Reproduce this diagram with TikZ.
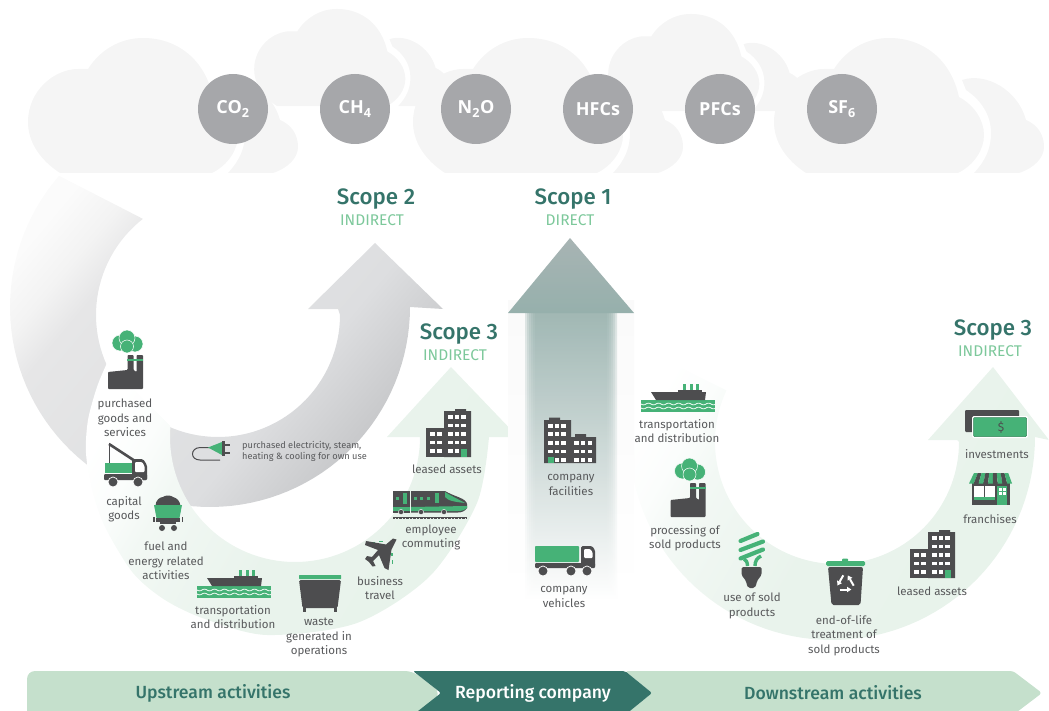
\documentclass[tikz,border=0pt]{standalone}
\usepackage{fontspec}
\setmainfont{Fira Sans}
\newfontfamily\gasfont{Open Sans}
\newfontfamily\headfont{Fira Sans Medium}
\definecolor{cloudGrey}{HTML}{F5F5F5}
\definecolor{gasGrey}{HTML}{A6A7AA}
\definecolor{iconGrey}{HTML}{4D4D4F}
\definecolor{iconGreen}{HTML}{46B277}
\definecolor{textGrey}{HTML}{58595B}
\definecolor{scopeDark}{HTML}{35746A}
\definecolor{scopeLight}{HTML}{7DC89B}
\definecolor{barLight}{HTML}{C5E0CC}
\definecolor{arrowGreen}{HTML}{96B0AC}
\definecolor{ringA}{HTML}{FBFBFB}
\definecolor{ringB}{HTML}{F3F3F3}
\definecolor{ringC}{HTML}{E6E6E7}
\definecolor{ringD}{HTML}{E1E2E3}
\definecolor{ringE}{HTML}{DDDEE0}
\definecolor{ringG}{HTML}{C7C8CA}
\definecolor{bandA}{HTML}{FBFDFC}
\definecolor{bandB}{HTML}{F2F8F4}
\definecolor{bandC}{HTML}{E9F3EC}
\definecolor{bandD}{HTML}{E7F2EA}
\pgfdeclarehorizontalshading{ringshade}{100bp}{color(0bp)=(ringA); color(22bp)=(ringA); color(28bp)=(ringB); color(33bp)=(ringC); color(48bp)=(ringD); color(60bp)=(ringE); color(72bp)=(ringG); color(100bp)=(ringG)}
\pgfdeclarehorizontalshading{bandshade}{100bp}{color(0bp)=(white); color(22bp)=(white); color(28bp)=(bandA); color(34bp)=(bandB); color(50bp)=(bandC); color(100bp)=(bandD)}
\tikzset{
  lbl/.style = {inner sep = 0, align = center, text = textGrey, font = \fontsize{11.5}{14.4}\selectfont},
  scopetitle/.style = {inner sep = 0, text = scopeDark, font = \headfont\fontsize{22.3}{24}\selectfont},
  scopekind/.style = {inner sep = 0, text = scopeLight, font = \fontsize{15.5}{16}\selectfont},
  gas/.style = {circle, fill = gasGrey, minimum size = 70, inner sep = 0, text = white, font = \gasfont\bfseries\fontsize{18}{20}\selectfont},
  barlbl/.style = {inner sep = 0, font = \headfont\fontsize{17.6}{20}\selectfont},
  seam/.style = {draw = white, line width = 0.5},
  factory/.pic = {
    \fill [iconGrey, rounded corners = 0.8] (0,0)--(0,-17)--(19.5,-19)--(19.5,-34)--(25.5,-34)--(25.5,-19)--(28.5,-17)--(28.5,-34)--(35,-34)--(35,0)--cycle;
    \fill [iconGreen] (19,-30.5) rectangle (35,-28.5);
    \filldraw [seam, fill = iconGreen] (12,-46) circle (8);
    \filldraw [seam, fill = iconGreen] (27,-45) circle (8);
    \filldraw [seam, fill = iconGreen] (19,-51) circle (8);
    \filldraw [seam, fill = iconGreen] (19,-42.5) circle (6.5);
  },
  ship/.pic = {
    \fill [iconGreen] (0,0) rectangle (74,12);
    \draw [white, line width = 0.7] plot [domain = 0:74, samples = 60] (\x,{4+0.9*sin(\x*36)});
    \draw [white, line width = 0.7] plot [domain = 0:74, samples = 60] (\x,{8+0.9*sin(\x*36)});
    \fill [iconGrey] (10,-8)--(65,-8)--(64,0)--(15,0)--cycle;
    \fill [iconGrey] (37,-10) rectangle (61,-7.5);
    \fill [iconGreen] (42,-16) rectangle (45,-10);
    \fill [iconGreen] (48.5,-16) rectangle (52,-10);
    \fill [iconGreen] (55,-16) rectangle (58,-10);
  },
  block/.pic = {
    \fill [iconGrey] (0,0) rectangle (18,-29);
    \fill [iconGrey] (18,0)--(18,-46)--(29,-46)--(29,-48)--(40,-48)--(40,-46)--(45,-46)--(45,0)--cycle;
    \foreach \y in {-8,-16.5,-25} {
      \fill [white] (4,\y) rectangle +(4.5,3.8);
      \fill [white] (11,\y) rectangle +(4.5,3.8);
    }
    \foreach \y in {-8,-16.5,-25,-33.5,-42} {
      \fill [white] (22,\y) rectangle +(4.5,3.8);
      \fill [white] (28.5,\y) rectangle +(4.5,3.8);
      \fill [white] (35,\y) rectangle +(4.5,3.8);
    }
    \fill [iconGrey] (34,-8) rectangle (45,0);
    \fill [white] (28.5,-8) rectangle +(4.5,3.8);
    \fill [iconGreen] (35,-8) rectangle (41,0);
  },
  cloudshape/.pic = {
    \fill [cloudGrey] (60,173) .. controls (40,160) and (28,142) .. (28,122) .. controls (28,90) and (55,69) .. (78,69) -- (88,69) .. controls (100,50) and (120,38) .. (143,38) .. controls (178,38) and (205,60) .. (213,97) .. controls (228,105) and (238,120) .. (238,135) .. controls (238,150) and (228,165) .. (212,173) -- cycle;
    \fill [cloudGrey] (228,173) .. controls (240,160) and (245,148) .. (245,133) .. controls (245,115) and (235,100) .. (220,90) -- (216,80) .. controls (240,72) and (272,90) .. (280,120) .. controls (292,125) and (298,135) .. (298,147) .. controls (298,158) and (288,168) .. (273,173) -- cycle;
  }
}
\begin{document}
\begin{tikzpicture}[x=1pt,y=-1pt]
    \useasboundingbox (0,0) rectangle (1049,711);
    % clouds
    \begin{scope}[shift={(234,-18.4)},scale=0.72]
        \pic [transform shape] {cloudshape};
    \end{scope}
    \begin{scope}[shift={(588,-13.4)},scale=0.72]
        \pic [transform shape] {cloudshape};
    \end{scope}
    \pic at (0,0) {cloudshape};
    \pic at (385,0) {cloudshape};
    \pic at (746,0) {cloudshape};
    \node [gas] (co2) at (233,109) {CO\textsubscript{2}};
    \node [gas] (ch4) at (355,109) {CH\textsubscript{4}};
    \node [gas] (n2o) at (476,109) {N\textsubscript{2}O};
    \node [gas] (hfcs) at (598,109) {HFCs};
    \node [gas] (pfcs) at (720,109) {PFCs};
    \node [gas] (sf6) at (842,109) {SF\textsubscript{6}};
    % scope 2 ring
    \shade [shading = ringshade, shading angle = -40] plot [domain = 221:0, samples = 80] ({210+200*cos(\x)},{307+200*sin(\x)}) -- (443,309) -- (375,243) -- (308,309) -- (338,309) -- plot [domain = 0:232, samples = 80] ({218+122*cos(\x)},{315+122*sin(\x)}) -- cycle;
    % scope 3 upstream band
    \shade [shading = bandshade, shading angle = -30] plot [smooth] coordinates {(107,363) (97,387) (88,420) (86,453) (92,490) (105,527) (133,573) (165,600) (205,619) (267,635) (357,623) (430,576) (477,503) (489,437)} -- (518,437) -- (451,367) -- (387,437) -- (420,437) -- plot [domain = 0:185, samples = 80] ({295+125*cos(\x)},{437+125*sin(\x)}) -- cycle;
    % scope 3 downstream band
    \shade [shading = bandshade, shading angle = -30] plot [domain = 205:0, samples = 80] ({832+203*cos(\x)},{437+203*sin(\x)}) -- (1049,440) -- (993,367) -- (928,440) -- (957,440) -- plot [domain = 0:205, samples = 80] ({837+122*cos(\x)},{442+122*sin(\x)}) -- cycle;
    % scope 1 arrow
    \fill [top color = black!2, bottom color = white] (508,300) rectangle (634,602);
    \foreach \w in {0,2,4,6,8,10} {
        \shade [top color = arrowGreen, bottom color = white, fill opacity = 0.3] ({535-\w},312) rectangle ({607+\w},{590+\w});
    }
    \shade [top color = gasGrey!50!arrowGreen!90!white, bottom color = arrowGreen] (570,238) -- (634,313) -- (508,313) -- cycle;
    % bottom bar
    \fill [barLight, rounded corners = 8] (27,671) -- (413,671) -- (441,693) -- (413,725) -- (27,725) -- cycle;
    \fill [barLight, rounded corners = 3] (625,671) -- (1013,671) -- (1042,693) -- (1013,715) -- (625,715) -- (652,693) -- cycle;
    \fill [scopeDark, rounded corners = 2] (413,671) -- (625,671) -- (652,693) -- (625,715) -- (413,715) -- (441,693) -- cycle;
    \node [barlbl, text = scopeDark] (upstream) at (213,693) {Upstream activities};
    \node [barlbl, text = white] (reporting) at (533,693) {Reporting company};
    \node [barlbl, text = scopeDark] (downstream) at (833,693) {Downstream activities};
    % scope titles
    \node [scopetitle] (s2) at (376,199) {Scope 2};
    \node [scopekind] (s2k) at (372,220) {INDIRECT};
    \node [scopetitle] (s1) at (573,199) {Scope 1};
    \node [scopekind] (s1k) at (570,220) {DIRECT};
    \node [scopetitle] (s3a) at (459,334) {Scope 3};
    \node [scopekind] (s3ak) at (455,355) {INDIRECT};
    \node [scopetitle] (s3b) at (993,330) {Scope 3};
    \node [scopekind] (s3bk) at (990,351) {INDIRECT};
    % icons
    \pic at (108,389) {factory};
    \pic at (670.5,517) {factory};
    \pic at (197,586) {ship};
    \pic at (641,400) {ship};
    \pic at (426,457) {block};
    \pic at (910,578) {block};
    % crane truck
    \draw [iconGrey, line width = 1] (109.5,443) -- (109.5,463);
    \draw [iconGrey, line width = 2.6] (109,444) -- (135,461);
    \fill [iconGrey, rounded corners = 1.5] (132,459) -- (143,459) -- (147,465) -- (147,480) -- (132,480) -- cycle;
    \fill [white, rounded corners = 1] (135,462) -- (142,462) -- (144.5,466) -- (144.5,472) -- (135,472) -- cycle;
    \fill [iconGreen] (105,463) rectangle (131.5,473);
    \fill [iconGrey, rounded corners = 1] (104,474) rectangle (147,480);
    \filldraw [fill = iconGrey, draw = white, line width = 0.7] (113,482) circle (5);
    \filldraw [fill = iconGrey, draw = white, line width = 0.7] (138,482) circle (5);
    % coal cart
    \fill [iconGrey] (155.5,506) .. controls (155.5,500) and (160,497) .. (163,497) .. controls (165,495) and (171,495) .. (173,497) .. controls (177,498) and (180,501) .. (180.5,506) -- cycle;
    \fill [iconGreen] (154,505) -- (182,505) -- (179.5,518) -- (156.5,518) -- cycle;
    \fill [iconGrey] (156,518) rectangle (180,521.5);
    \fill [iconGrey] (153,517) rectangle (154.5,522);
    \fill [iconGrey] (181.5,517) rectangle (183,522);
    \fill [iconGrey] (162,528) circle (3);
    \fill [iconGrey] (174,528) circle (3);
    \fill [iconGrey] (160,521) rectangle (176,524);
    % plug
    \draw [iconGrey, line width = 1] (220,460) -- (200,460) .. controls (190,460) and (190,448) .. (200,447.5) -- (210,447.5);
    \fill [iconGreen] (208,447.5) -- (222,442) -- (222,455) -- cycle;
    \fill [iconGrey] (222,441) rectangle (224.5,456);
    \fill [iconGrey] (224,444) rectangle (230,446);
    \fill [iconGrey] (224,452) rectangle (230,454);
    % dumpster
    \fill [iconGreen, rounded corners = 0.5] (299,575) rectangle (341,579);
    \fill [iconGrey, rounded corners = 1.5] (299,580) -- (341,580) -- (337.5,608) -- (302.5,608) -- cycle;
    \fill [iconGrey] (303,607) rectangle (306,612);
    \fill [iconGrey] (334,607) rectangle (337,612);
    % plane
    \fill [iconGreen] (372,542) rectangle (375,543);
    \fill [iconGreen] (379,541) rectangle (383,542);
    \fill [iconGreen] (391,553) rectangle (392.5,556);
    \fill [iconGreen] (392,560) rectangle (393,564);
    \fill [iconGrey] (396.5,539.5) -- (391.5,549.5) -- (388.5,570) -- (384.5,568) -- (379,555) -- (373,561) -- (375.5,566) -- (372.5,566.5) -- (369,562) -- (365,559) -- (367,556) -- (372,557) -- (378,550) -- (365,545) -- (366,541) -- (386,544.5) -- (393,538.5) -- cycle;
    % train
    \fill [iconGrey] (393,491) rectangle (410,507);
    \fill [iconGreen] (393,507) rectangle (410,511);
    \fill [iconGrey] (393,511) rectangle (410,512.5);
    \fill [iconGreen] (396,497) rectangle (399,500);
    \fill [iconGreen] (403,493) rectangle (407,504);
    \fill [iconGrey] (411,491) -- (445,491) .. controls (455,497) and (466,498) .. (467,504) -- (467,508) .. controls (465,511) and (462,512.5) .. (458,512.5) -- (411,512.5) -- cycle;
    \fill [iconGreen] (411,507) -- (467,506) -- (467,508) .. controls (465,510) and (462,511) .. (458,511) -- (411,511) -- cycle;
    \foreach \xw in {414,420,427} {
        \fill [iconGreen] (\xw,497) rectangle +(3,3);
    }
    \fill [iconGreen] (435,493) rectangle (439,503);
    \fill [iconGreen] (445,492) .. controls (451,496) and (458,499) .. (465,503) .. controls (456,502) and (448,501) .. (445,497) -- cycle;
    \foreach \xw in {401,421,444} {
        \filldraw [fill = iconGrey, draw = white, line width = 0.4] (\xw,512) circle (2.6);
    }
    \draw [iconGrey, line width = 0.9] (393,517) -- (467,517);
    \draw [iconGrey, line width = 1.6, dash pattern = on 0.7 off 0.7] (393,518.6) -- (467,518.6);
    % company facilities
    \fill [iconGrey] (544,463) -- (544,420) -- (549,420) -- (549,417.5) -- (560,417.5) -- (560,420) -- (571,420) -- (571,437) -- (575,437) -- (575,434) -- (586,434) -- (586,437) -- (596,437) -- (596,463) -- cycle;
    \foreach \xw in {548,554.5,561} {
        \foreach \yw in {424,432,441,449.5,458} {
            \fill [white] (\xw,\yw) rectangle +(4.5,3.5);
        }
    }
    \foreach \xw in {574,580.5,587.5} {
        \foreach \yw in {441,449.5,458} {
            \fill [white] (\xw,\yw) rectangle +(4.5,3.5);
        }
    }
    \fill [iconGreen] (548,456.5) rectangle (553.5,463);
    % company vehicles
    \fill [iconGreen, rounded corners = 0.8] (535,546) rectangle (579,562);
    \fill [iconGrey, rounded corners = 1.5] (581,546) -- (592,546) -- (595,550) -- (595,567) -- (581,567) -- cycle;
    \fill [white, rounded corners = 1] (584,549) -- (590,549) -- (592.5,552) -- (592.5,558) -- (584,558) -- cycle;
    \fill [iconGrey, rounded corners = 1] (535,563) rectangle (595,568);
    \filldraw [fill = iconGrey, draw = white, line width = 0.7] (543,571) circle (5);
    \filldraw [fill = iconGrey, draw = white, line width = 0.7] (571,571) circle (5);
    \filldraw [fill = iconGrey, draw = white, line width = 0.7] (587,571) circle (5);
    % bulb
    \draw [iconGreen, line width = 4.2, line cap = round] (740.5,541) -- (757.5,534);
    \draw [iconGreen, line width = 4.2, line cap = round] (740.5,550) -- (763,541.5);
    \draw [iconGreen, line width = 4.2, line cap = round] (740.5,558.5) -- (763,549.5);
    \draw [iconGreen, line width = 3.4] (747.5,566) .. controls (747.5,562) and (746,560) .. (744,559);
    \draw [iconGreen, line width = 3.4] (755,566) .. controls (755,561) and (757,558) .. (761,556);
    \fill [iconGrey, rounded corners = 1.5] (741.5,567) -- (761.5,567) -- (761.5,575) -- (757,581) .. controls (756,586) and (755,588) .. (751.5,588) .. controls (748,588) and (747,586) .. (746,581) -- (741.5,575) -- cycle;
    % recycling bin
    \fill [iconGreen, rounded corners = 1.5] (826,561) rectangle (865,566);
    \fill [iconGreen, rounded corners = 1] (842,558.5) rectangle (848,562);
    \fill [iconGrey, rounded corners = 2] (828,567) -- (863,567) -- (860.5,605) -- (831.5,605) -- cycle;
    \foreach \a in {0,120,240} {
        \begin{scope}[shift={(845.5,583.5)},rotate=\a]
            \draw [white, line width = 2] (-6,6) -- (1.5,6);
            \fill [white] (1.5,3.2) -- (5.8,6) -- (1.5,8.8) -- cycle;
        \end{scope}
    }
    % store
    \fill [iconGrey] (972,482) rectangle (1010,505);
    \fill [white] (974,486) rectangle (984,497);
    \fill [white] (985,486) rectangle (995,497);
    \fill [iconGreen] (974,497) rectangle (995,499.5);
    \fill [iconGreen] (997,486) rectangle (1006.5,505);
    \fill [white] (998.5,487.5) rectangle (1001.5,490.5);
    \fill [white] (1002.5,487.5) rectangle (1005.5,490.5);
    \fill [white] (998.5,491.5) rectangle (1001.5,494.5);
    \fill [white] (1002.5,491.5) rectangle (1005.5,494.5);
    \foreach \i/\col in {0/iconGreen,1/iconGrey,2/iconGreen,3/iconGrey,4/iconGreen,5/iconGrey,6/iconGreen,7/iconGrey,8/iconGreen} {
        \fill [\col] ({974+\i*3.8},473) -- ({974+(\i+1)*3.8},473) -- ({969+(\i+1)*4.78},483.5) -- ({969+\i*4.78},483.5) -- cycle;
    }
    % money
    \fill [iconGrey, rounded corners = 1] (965,410) rectangle (1019,432);
    \fill [white, rounded corners = 1.5] (972,416) rectangle (1028,438);
    \filldraw [fill = iconGreen, draw = iconGreen!75!black, line width = 0.5, rounded corners = 1] (973.5,417.5) rectangle (1026.5,436.5);
    \node [inner sep = 0, text = iconGrey, font = \fontsize{12}{14}\selectfont] (dollar) at (1001,427) {\$};
    % labels
    \node [lbl] (goods) at (125,418) {purchased\\goods and\\services};
    \node [lbl] (capital) at (124,509) {capital\\goods};
    \node [lbl] (fuel) at (166,561) {fuel and\\energy related\\activities};
    \node [lbl] (transportA) at (233,617) {transportation\\and distribution};
    \node [lbl] (waste) at (319,637.5) {waste\\generated in\\operations};
    \node [lbl] (travel) at (380,588) {business\\travel};
    \node [lbl] (commute) at (431,537.5) {employee\\commuting};
    \node [lbl] (leasedA) at (447,469) {leased assets};
    \node [lbl] (facilities) at (571,485) {company\\facilities};
    \node [lbl] (vehicles) at (564,597) {company\\vehicles};
    \node [lbl] (transportB) at (677,431) {transportation\\and distribution};
    \node [lbl] (processing) at (685,538.5) {processing of\\sold products};
    \node [lbl] (usesold) at (752,606) {use of sold\\products};
    \node [lbl] (endlife) at (844,635.5) {end-of-life\\treatment of\\sold products};
    \node [lbl] (leasedB) at (932,591) {leased assets};
    \node [lbl] (franchises) at (990,519) {franchises};
    \node [lbl] (investments) at (997,454) {investments};
    \node [lbl, anchor = west, align = left, font = \fontsize{9.2}{11}\selectfont] (electricity) at (242,451) {purchased electricity, steam,\\heating \& cooling for own use};
\end{tikzpicture}
\end{document}
